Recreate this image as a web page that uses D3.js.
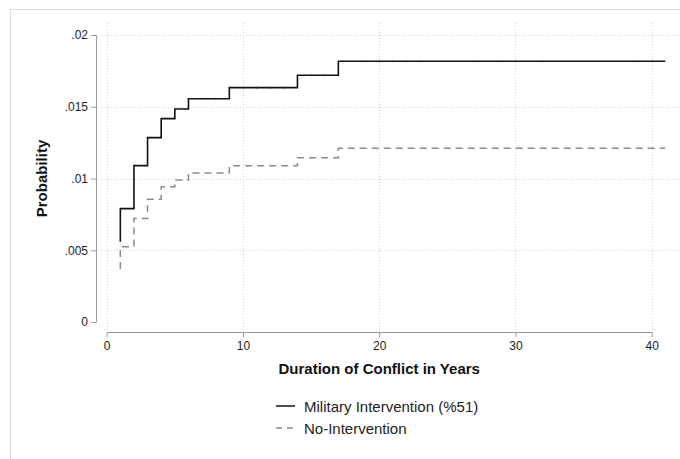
<!DOCTYPE html>
<html>
<head>
<meta charset="utf-8">
<script src="https://cdn.jsdelivr.net/npm/d3@7"></script>
<style>
  body { margin: 0; background: #fff; }
  svg { display: block; font-family: "Liberation Sans", Arial, sans-serif; }
</style>
</head>
<body>
<div class="canvas"></div>
<script>
// step points (year where the curve jumps, level after the jump)
const years = [1, 2, 3, 4, 5, 6, 9, 14, 17, 41];
const military = [0.0079, 0.0109, 0.01285, 0.01417, 0.01484, 0.01556, 0.01633, 0.01719, 0.01817, 0.01817];
const militaryStart = 0.0056;
const noIntervention = [0.00525, 0.00722, 0.00855, 0.00943, 0.0099, 0.01038, 0.01089, 0.01145, 0.0121, 0.0121];
const noInterventionStart = 0.0037;
// small marks along the solid curve
const militaryMarks = [7, 8, 10, 11, 12, 13, 15, 16, 18, 19, 20, 21, 22, 23, 27, 29, 32, 39];

const xTicks = [0, 10, 20, 30, 40];
const yTicks = [0, 0.005, 0.01, 0.015, 0.02];
const yTickLabels = ["0", ".005", ".01", ".015", ".02"];
const seriesNames = ["Military Intervention (%51)", "No-Intervention"];

const width = 680, height = 459;
const svg = d3.select(".canvas").append("svg").attr("width", width).attr("height", height);

// outer frame (top and left only visible)
svg.append("line").attr("x1", 10).attr("x2", width).attr("y1", 9.5).attr("y2", 9.5)
  .attr("stroke", "#dcdcdc").attr("stroke-width", 1);
svg.append("line").attr("x1", 10.5).attr("x2", 10.5).attr("y1", 9).attr("y2", height)
  .attr("stroke", "#dcdcdc").attr("stroke-width", 1);

const xScale = d3.scaleLinear().domain([0, 40]).range([106.7, 651.7]);
const yScale = d3.scaleLinear().domain([0, 0.02]).range([322, 35]);

// grid
svg.append("g").selectAll("line").data(yTicks.filter((d) => d > 0)).join("line")
  .attr("x1", 96).attr("x2", width)
  .attr("y1", (d) => Math.round(yScale(d)) + 0.5).attr("y2", (d) => Math.round(yScale(d)) + 0.5)
  .attr("stroke", "#cfcfcf").attr("stroke-dasharray", "1,2");
svg.append("g").selectAll("line").data(xTicks).join("line")
  .attr("x1", (d) => Math.round(xScale(d)) + 0.5).attr("x2", (d) => Math.round(xScale(d)) + 0.5)
  .attr("y1", 23).attr("y2", 331)
  .attr("stroke", "#cfcfcf").attr("stroke-dasharray", "1,2");

// axes
const yAxis = svg.append("g").attr("transform", "translate(96,0)")
  .call(d3.axisLeft(yScale).tickValues(yTicks).tickSize(5).tickSizeOuter(0).tickPadding(3)
    .tickFormat((d, i) => yTickLabels[i]));
const xAxis = svg.append("g").attr("transform", "translate(0,332)")
  .call(d3.axisBottom(xScale).tickValues(xTicks).tickSize(5).tickSizeOuter(0).tickPadding(4));
[xAxis, yAxis].forEach((ax) => {
  ax.select(".domain").attr("stroke", "#9a9a9a");
  ax.selectAll(".tick line").attr("stroke", "#9a9a9a");
  ax.selectAll(".tick text").attr("fill", "#222").style("font-size", "12px");
});

// curves
const stepData = (start, vals) => [{ x: years[0], y: start }].concat(years.map((t, i) => ({ x: t, y: vals[i] })));
const line = d3.line().x((d) => xScale(d.x)).y((d) => yScale(d.y)).curve(d3.curveStepAfter);

svg.append("path").datum(stepData(noInterventionStart, noIntervention))
  .attr("d", line).attr("fill", "none").attr("stroke", "#8a8a8a")
  .attr("stroke-width", 1.5).attr("stroke-dasharray", "7,5");
svg.append("path").datum(stepData(militaryStart, military))
  .attr("d", line).attr("fill", "none").attr("stroke", "#111")
  .attr("stroke-width", 1.6);

const stepAt = (t) => {
  let v = militaryStart;
  years.forEach((y, i) => { if (y <= t) v = military[i]; });
  return v;
};
svg.append("g").selectAll("rect").data(militaryMarks).join("rect")
  .attr("x", (d) => xScale(d) - 0.5).attr("y", (d) => yScale(stepAt(d)) - 1)
  .attr("width", 1).attr("height", 2).attr("fill", "#444");

// titles
svg.append("text").attr("x", (xScale(0) + xScale(40)) / 2).attr("y", 374)
  .attr("text-anchor", "middle").style("font-size", "15px").style("font-weight", "bold")
  .attr("fill", "#111").text("Duration of Conflict in Years");
svg.append("text").attr("transform", `translate(47,${(yScale(0) + yScale(0.02)) / 2}) rotate(-90)`)
  .attr("text-anchor", "middle").style("font-size", "15px").style("font-weight", "bold")
  .attr("fill", "#111").text("Probability");

// legend
const legend = svg.append("g").attr("transform", "translate(276,406)");
const rows = legend.selectAll("g").data(seriesNames).join("g")
  .attr("transform", (d, i) => `translate(0,${i * 22})`);
rows.append("line").attr("x1", 0).attr("x2", 19).attr("y1", 0).attr("y2", 0)
  .attr("stroke", (d, i) => (i === 0 ? "#111" : "#8a8a8a"))
  .attr("stroke-width", 1.5)
  .attr("stroke-dasharray", (d, i) => (i === 0 ? null : "6,5"));
rows.append("text").attr("x", 28).attr("y", 6).style("font-size", "15px")
  .attr("fill", "#222").text((d) => d);
</script>
</body>
</html>
